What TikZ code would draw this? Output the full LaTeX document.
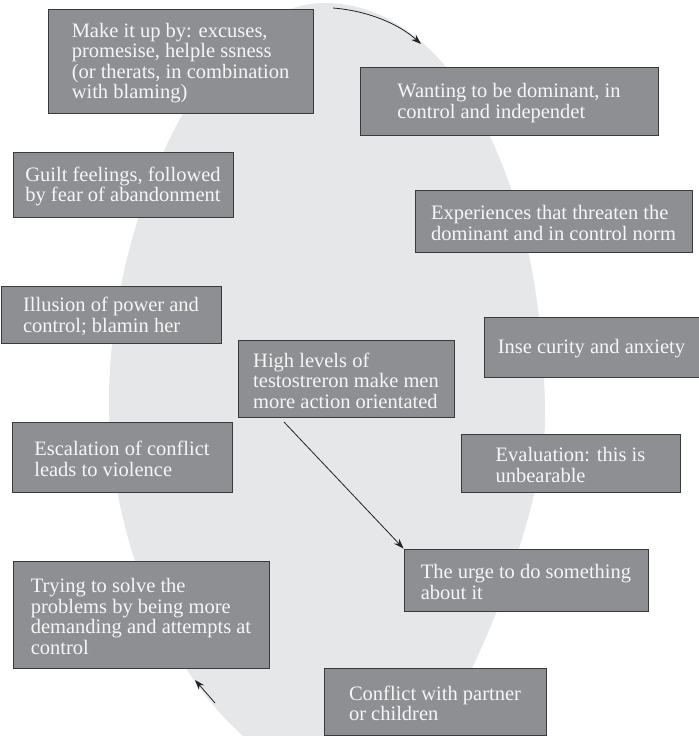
\documentclass[tikz,border=0pt]{standalone}
\usepackage{fontspec}
\setmainfont{Liberation Serif}
\usetikzlibrary{arrows.meta,fit}
\definecolor{boxfill}{HTML}{8E8F93}
\definecolor{boxline}{HTML}{3A3A3A}
\definecolor{ellfill}{HTML}{E6E7E9}
\definecolor{txt}{HTML}{F6F6F6}
\definecolor{arrcol}{HTML}{222222}
\tikzset{
  box/.style={draw=boxline, line width=0.9bp, fill=boxfill, inner sep=0pt},
  lbl/.style={inner sep=0pt, text=txt, align=left, yshift=-2bp,
    font=\fontsize{20.5bp}{20.4bp}\selectfont},
  arr/.style={draw=arrcol, line width=0.8bp, -{Stealth[length=10bp,width=7bp]}}
}
\begin{document}
\begin{tikzpicture}[x=1bp,y=-1bp]
\useasboundingbox (0,0) rectangle (699,736);
\begin{scope}
\clip (0,0) rectangle (699,736);
\fill[ellfill] (325,3) .. controls (446,3) and (545,170) .. (545,420)
  .. controls (545,520) and (440,790) .. (370,790)
  .. controls (230,790) and (109,600) .. (109,400)
  .. controls (109,230) and (200,3) .. (325,3) -- cycle;
\end{scope}

\node[box, fit={(48,9) (313,113)}] (b1) {};
\node[lbl] (t1) at (b1.center) {Make it up by: excuses,\\promesise, helple ssness\\(or therats, in combination\\with blaming)};
\node[box, fit={(360,67) (658,135)}] (b2) {};
\node[lbl] (t2) at (b2.center) {Wanting to be dominant, in\\control and independet};
\node[box, fit={(13,152) (233,217)}] (b3) {};
\node[lbl] (t3) at (b3.center) {Guilt feelings, followed\\by fear of abandonment};
\node[box, fit={(415,190) (692,252)}] (b4) {};
\node[lbl] (t4) at (b4.center) {Experiences that threaten the\\dominant and in control norm};
\node[box, fit={(1,286) (221,343)}] (b5) {};
\node[lbl] (t5) at (b5.center) {Illusion of power and\\control; blamin her};
\node[box, fit={(238,340) (454,417)}] (b6) {};
\node[lbl] (t6) at (b6.center) {High levels of\\testostreron make men\\more action orientated};
\node[box, fit={(484,317) (699,377)}] (b7) {};
\node[lbl] (t7) at (b7.center) {Inse curity and anxiety};
\node[box, fit={(12,422) (232,492)}] (b8) {};
\node[lbl] (t8) at (b8.center) {Escalation of conflict\\leads to violence};
\node[box, fit={(461,434) (680,492)}] (b9) {};
\node[lbl] (t9) at (b9.center) {Evaluation: this is\\unbearable};
\node[box, fit={(404,549) (648,611)}] (b10) {};
\node[lbl] (t10) at (b10.center) {The urge to do something\\about it};
\node[box, fit={(13,561) (269,668)}] (b11) {};
\node[lbl] (t11) at (b11.center) {Trying to solve the\\problems by being more\\demanding and attempts at\\control};
\node[box, fit={(324,668) (546,735)}] (b12) {};
\node[lbl] (t12) at (b12.center) {Conflict with partner\\or children};

\coordinate (c1) at (333,8);
\coordinate (c2) at (421,44);
\draw[arr] (c1) .. controls (370,11) and (400,25) .. (c2);
\coordinate (m1) at (284,422);
\draw[arr] (m1) -- (b10.north west);
\coordinate (l1) at (215,703);
\coordinate (l2) at (195,680);
\draw[arr] (l1) -- (l2);
\end{tikzpicture}
\end{document}
